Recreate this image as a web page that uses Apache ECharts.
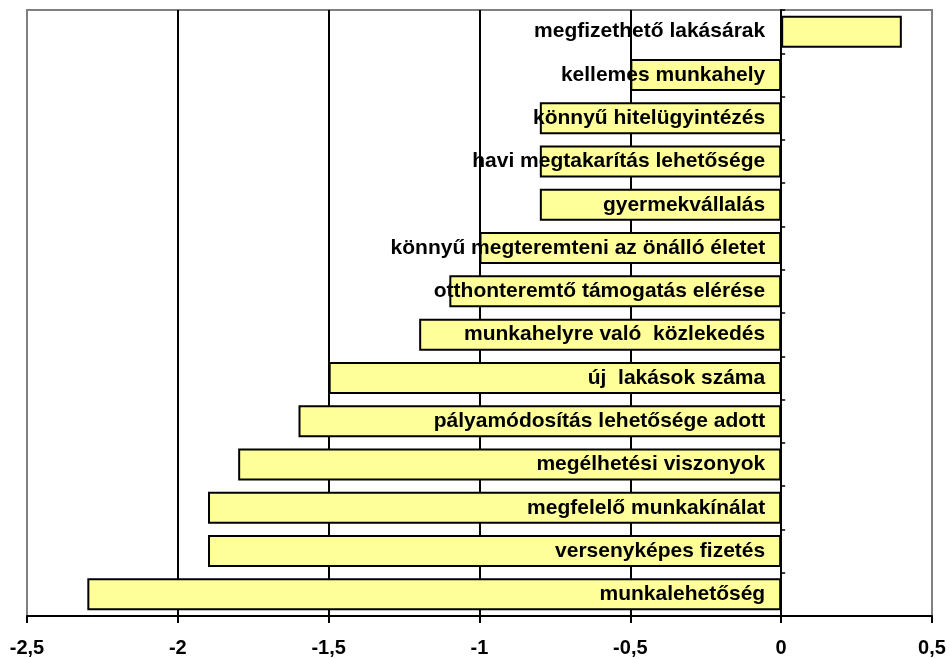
<!DOCTYPE html>
<html>
<head>
<meta charset="utf-8">
<script src="https://cdn.jsdelivr.net/npm/echarts@6/dist/echarts.min.js"></script>
<style>
html,body{margin:0;padding:0;background:#fff;}
#chart{width:950px;height:659px;}
</style>
</head>
<body>
<div id="chart"></div>
<script>
// Factors ranked from top to bottom
const categories = [
  'megfizethető lakásárak',
  'kellemes munkahely',
  'könnyű hitelügyintézés',
  'havi megtakarítás lehetősége',
  'gyermekvállalás',
  'könnyű megteremteni az önálló életet',
  'otthonteremtő támogatás elérése',
  'munkahelyre való  közlekedés',
  'új  lakások száma',
  'pályamódosítás lehetősége adott',
  'megélhetési viszonyok',
  'megfelelő munkakínálat',
  'versenyképes fizetés',
  'munkalehetőség'
];
const values = [0.4, -0.5, -0.8, -0.8, -0.8, -1.0, -1.1, -1.2, -1.5, -1.6, -1.8, -1.9, -1.9, -2.3];
const xTicks = { min: -2.5, max: 0.5, interval: 0.5 };

const chart = echarts.init(document.getElementById('chart'));
const font = 'Liberation Sans, Arial, sans-serif';

// Category names sit just left of the zero line, over the bars
const barData = values.map(v => ({
  value: v,
  label: v >= 0
    ? { position: 'left', distance: 16 }
    : { position: 'insideRight', distance: 16 }
}));

chart.setOption({
  animation: false,
  grid: {
    left: 27, right: 18, top: 10, bottom: 43,
    containLabel: false, outerBoundsMode: 'none',
    show: true, borderColor: '#808080', borderWidth: 2
  },
  xAxis: {
    type: 'value',
    min: xTicks.min, max: xTicks.max, interval: xTicks.interval,
    axisLine: { show: true, onZero: false, lineStyle: { color: '#000', width: 2 } },
    axisTick: { show: true, length: 7, lineStyle: { color: '#000', width: 2 } },
    axisLabel: {
      color: '#000', fontFamily: font, fontWeight: 'bold', fontSize: 20, margin: 22,
      formatter: v => String(v).replace('.', ',')
    },
    splitLine: {
      show: true,
      lineStyle: { color: ['#808080', '#000', '#000', '#000', '#000', '#000', '#808080'], width: 2 }
    }
  },
  yAxis: {
    type: 'category',
    data: categories,
    inverse: true,
    z: 10,
    axisLine: { show: true, onZero: true, lineStyle: { color: '#000', width: 2 } },
    axisTick: { show: true, inside: true, length: 4, lineStyle: { color: '#000', width: 1.5 } },
    axisLabel: { show: false },
    splitLine: { show: false }
  },
  series: [{
    type: 'bar',
    data: barData,
    barCategoryGap: '26%',
    itemStyle: { color: '#FFFF99', borderColor: '#000', borderWidth: 2 },
    label: {
      show: true,
      formatter: '{b}',
      color: '#000', fontFamily: font, fontWeight: 'bold', fontSize: 21
    }
  }]
});
</script>
</body>
</html>
